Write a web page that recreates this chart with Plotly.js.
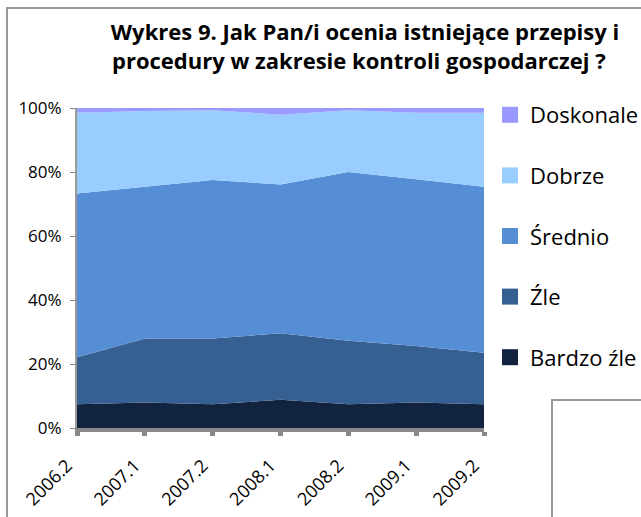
<!DOCTYPE html>
<html>
<head>
<meta charset="utf-8">
<script src="https://cdn.plot.ly/plotly-3.0.1.min.js"></script>
<style>html,body{margin:0;padding:0;background:#fff;}#chart{width:641px;height:517px;}</style>
</head>
<body>
<div id="chart"></div>
<script>
var categories = ['2006.2','2007.1','2007.2','2008.1','2008.2','2009.1','2009.2'];
var seriesNames = ['Bardzo źle','Źle','Średnio','Dobrze','Doskonale'];
var bardzoZle = [7.4, 8.0, 7.4, 8.8, 7.4, 8.0, 7.4];
var zle       = [14.7, 20.0, 20.6, 20.8, 19.9, 17.6, 16.1];
var srednio   = [51.2, 47.4, 49.5, 46.5, 52.7, 52.1, 51.9];
var dobrze    = [25.2, 23.7, 21.8, 21.8, 19.3, 20.8, 23.1];
var doskonale = [1.5, 0.9, 0.7, 2.1, 0.7, 1.5, 1.5];
var yTicks = [0, 20, 40, 60, 80, 100];

var seriesValues = [bardzoZle, zle, srednio, dobrze, doskonale];
var colors = ['#11233f', '#376092', '#558ed5', '#99ccff', '#9999ff'];

var data = [];
seriesValues.forEach(function (vals, i) {
  data.push({
    type: 'scatter', x: categories, y: vals, stackgroup: 'one',
    mode: 'none', fill: 'tonexty', fillcolor: colors[i],
    name: seriesNames[i], showlegend: false, hoverinfo: 'skip'
  });
});
for (var i = seriesValues.length - 1; i >= 0; i--) {
  data.push({
    type: 'scatter', x: [null], y: [null], mode: 'markers',
    marker: {symbol: 'square', size: 18, color: colors[i]},
    name: seriesNames[i], legendgroup: 'g' + i, showlegend: true, hoverinfo: 'skip'
  });
}

var W = 407, H = 320, L = 77, T = 108;
function px(x) { return (x - L) / W; }
function py(y) { return (T + H - y) / H; }
var FONT = '"Open Sans", Lato, sans-serif';

var layout = {
  width: 641, height: 517,
  margin: {l: L, r: 641 - L - W, t: T, b: 517 - T - H, pad: 0, autoexpand: false},
  paper_bgcolor: '#ffffff', plot_bgcolor: '#ffffff',
  font: {family: FONT, color: '#000'},
  title: {
    text: 'Wykres 9. Jak Pan/i ocenia istniejące przepisy i',
    font: {family: FONT, size: 22, weight: 'bold', color: '#000'},
    x: 365 / 641, xanchor: 'center', xref: 'container',
    y: 1 - 32 / 517, yanchor: 'middle', yref: 'container'
  },
  annotations: [{
    text: 'procedury w zakresie kontroli gospodarczej ?',
    font: {family: FONT, size: 22, weight: 'bold', color: '#000'},
    xref: 'paper', yref: 'paper', x: px(359), y: py(60),
    xanchor: 'center', yanchor: 'middle', showarrow: false
  }],
  xaxis: {
    type: 'category', range: [0, categories.length - 1],
    showline: true, linecolor: '#888888', linewidth: 4,
    ticks: 'outside', ticklen: 4, tickwidth: 5, tickcolor: '#888888',
    tickangle: -45, tickfont: {size: 18, color: '#000'},
    ticklabelstandoff: 12, ticklabelshift: -10,
    showgrid: false, zeroline: false, fixedrange: true
  },
  yaxis: {
    range: [0, 100], tickvals: yTicks, ticktext: yTicks.map(function (v) { return v + '%'; }),
    showline: true, linecolor: '#999999', linewidth: 2,
    ticks: 'outside', ticklen: 5, tickwidth: 1, tickcolor: '#888888',
    ticklabelstandoff: 5,
    tickfont: {size: 17, color: '#000'}, showgrid: false, zeroline: false, fixedrange: true
  },
  showlegend: true,
  legend: {
    x: px(490), y: py(94), xanchor: 'left', yanchor: 'top',
    traceorder: 'grouped', tracegroupgap: 29, maxheight: 480,
    font: {family: FONT, size: 22, color: '#000'}, bgcolor: 'rgba(0,0,0,0)', itemclick: false
  },
  shapes: [{
    type: 'rect', xref: 'paper', yref: 'paper',
    x0: px(552), x1: px(660), y0: py(540), y1: py(400),
    line: {color: '#999999', width: 2}, fillcolor: 'rgba(0,0,0,0)'
  }, {
    type: 'rect', xref: 'paper', yref: 'paper',
    x0: px(7), x1: px(700), y0: py(600), y1: py(8),
    line: {color: '#999999', width: 2}, fillcolor: 'rgba(0,0,0,0)', layer: 'below'
  }]
};

Plotly.newPlot('chart', data, layout, {displayModeBar: false, staticPlot: true});
</script>
</body>
</html>
